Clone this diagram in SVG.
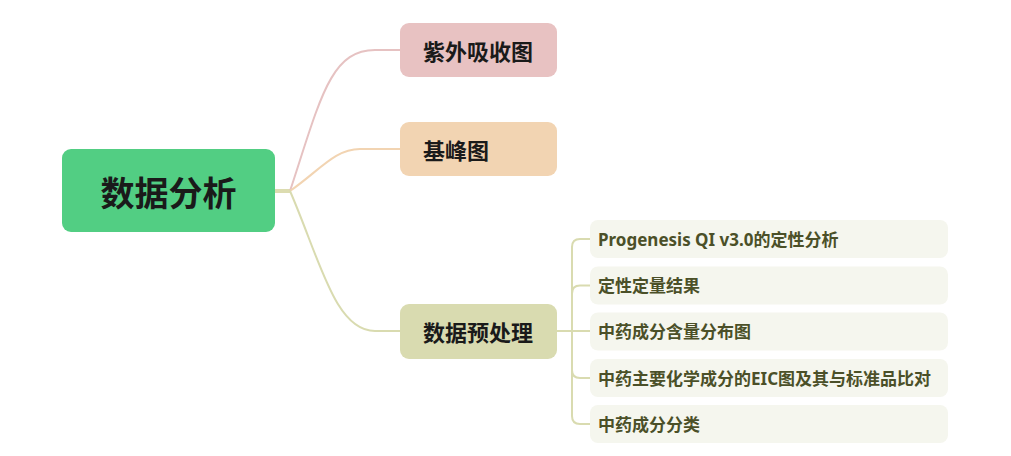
<svg xmlns="http://www.w3.org/2000/svg" width="1011" height="456" viewBox="0 0 1011 456">
<style>
text{font-family:"Noto Sans CJK SC","Noto Sans",sans-serif;font-weight:bold;dominant-baseline:central}
.l1{font-size:22px;fill:#1a1a1a}
.l2{font-family:"Noto Sans","Noto Sans CJK SC",sans-serif;font-size:17px;fill:#4b5028}
.b2{fill:#f5f6ee}
.c{fill:none;stroke-width:2;stroke-linecap:round}
</style>
<rect width="1011" height="456" fill="#ffffff"/>
<g id="connectors">
<path d="M275 191 H290" stroke="#dcdcb0" stroke-width="4" fill="none"/>
<path class="c" stroke="#e6c2c2" d="M290 191 C320 100 330 50 375 50 H400"/>
<path class="c" stroke="#f2d4b2" d="M290 191 C320 170 335 149 360 149 H400"/>
<path class="c" stroke="#d9dbb0" d="M290 191 C320 260 335 331 375 331 H400"/>
<path class="c" stroke="#d9dbb0" d="M557 331 H590"/>
<path class="c" stroke="#d9dbb0" d="M590 239 H580 Q572 239 572 247 V416 Q572 424 580 424 H590"/>
<path class="c" stroke="#d9dbb0" d="M590 285.5 H580 Q572 285.5 572 293.5"/>
<path class="c" stroke="#d9dbb0" d="M590 378 H580 Q572 378 572 370"/>
</g>
<g id="root">
<rect x="62" y="149" width="213" height="83" rx="9" fill="#52ce83"/>
<text x="168.5" y="191" font-size="34" fill="#1a1a1a" text-anchor="middle">数据分析</text>
</g>
<g id="n1">
<rect x="400" y="23" width="157" height="54" rx="9" fill="#e8c2c2"/>
<text class="l1" x="423" y="50">紫外吸收图</text>
</g>
<g id="n2">
<rect x="400" y="122" width="157" height="54" rx="9" fill="#f2d4b2"/>
<text class="l1" x="423" y="149">基峰图</text>
</g>
<g id="n3">
<rect x="400" y="304" width="157" height="55" rx="9" fill="#d9dbb0"/>
<text class="l1" x="423" y="331">数据预处理</text>
</g>
<g id="s1">
<rect class="b2" x="590" y="220" width="358" height="38" rx="8"/>
<text class="l2" x="598" y="239">Progenesis QI v3.0的定性分析</text>
</g>
<g id="s2">
<rect class="b2" x="590" y="266.5" width="358" height="38" rx="8"/>
<text class="l2" x="598" y="285.5">定性定量结果</text>
</g>
<g id="s3">
<rect class="b2" x="590" y="312.5" width="358" height="38" rx="8"/>
<text class="l2" x="598" y="331.5">中药成分含量分布图</text>
</g>
<g id="s4">
<rect class="b2" x="590" y="359" width="358" height="38" rx="8"/>
<text class="l2" x="598" y="378">中药主要化学成分的EIC图及其与标准品比对</text>
</g>
<g id="s5">
<rect class="b2" x="590" y="405" width="358" height="38" rx="8"/>
<text class="l2" x="598" y="424">中药成分分类</text>
</g>
</svg>
